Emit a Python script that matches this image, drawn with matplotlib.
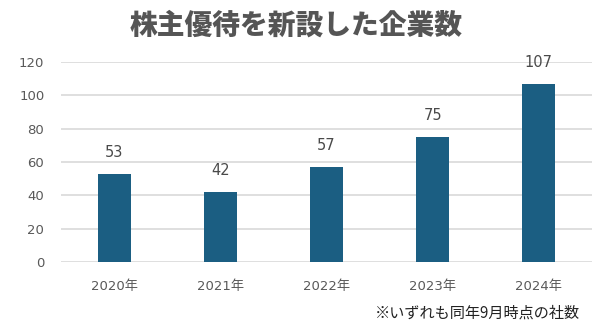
import matplotlib
matplotlib.use("Agg")
import matplotlib.pyplot as plt

plt.rcParams['font.family'] = ['DejaVu Sans', 'Noto Sans CJK JP']

categories = ["2020年", "2021年", "2022年", "2023年", "2024年"]
values = [53, 42, 57, 75, 107]
yticks = [0, 20, 40, 60, 80, 100, 120]

fig = plt.figure(figsize=(6, 3.32), dpi=100)
ax = fig.add_axes([0.1017, 0.211, 0.885, 0.602])

x = range(len(categories))
ax.bar(x, values, width=0.31, color="#1b5e82", zorder=3)
for xi, v in zip(x, values):
    ax.text(xi, v + 13, str(v), ha="center", va="center", fontsize=10.5, color="#4a4a4a")

ax.set_xlim(-0.5, len(categories) - 0.5)
ax.set_ylim(0, 120)
ax.set_yticks(yticks)
ax.set_xticks(list(x))
ax.set_xticklabels(categories)
ax.tick_params(axis='both', length=0, colors="#595959", labelsize=9.5)
ax.tick_params(axis='y', pad=12)
ax.tick_params(axis='x', pad=13)
ax.grid(axis='y', color="#d9d9d9", linewidth=1.2, zorder=0)
for s in ax.spines.values():
    s.set_visible(False)

fig.text(0.493, 0.925, "株主優待を新設した企業数", ha="center", va="center",
         fontsize=20, fontweight="black", color="#555555", family=['Noto Sans CJK JP'])
fig.text(0.967, 0.057, "※いずれも同年9月時点の社数", ha="right", va="center",
         fontsize=10.9, color="#222222", family=['Noto Sans CJK JP', 'DejaVu Sans'])

fig.savefig("out.png", dpi=100, facecolor="white")
